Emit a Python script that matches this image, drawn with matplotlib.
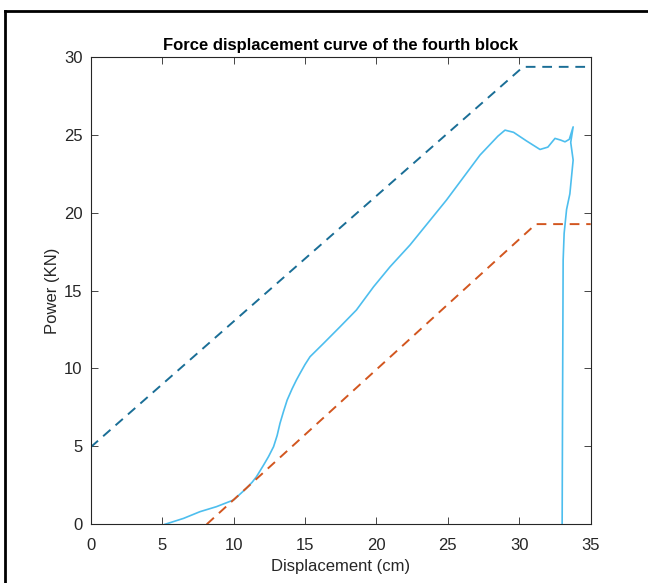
import numpy as np
from matplotlib import pyplot as plt
from matplotlib.lines import Line2D

plt.rcParams['font.family'] = ['Liberation Sans', 'DejaVu Sans']

# measured force-displacement curve (light blue)
disp = [5.2, 6.5, 7.65, 8.8, 10.0, 10.9, 11.3, 11.6, 12.1, 12.45, 12.8, 13.05,
        13.25, 13.5, 13.75, 14.1, 14.4, 14.65, 15.0, 15.35, 16.3, 17.45, 18.6,
        19.8, 20.95, 22.35, 24.9, 27.25, 28.5, 29.0, 29.6, 30.5, 31.45, 32.0,
        32.5, 32.9, 33.2, 33.5, 33.77, 33.6, 33.77, 33.54, 33.31, 33.14, 33.07,
        33.03, 33.0]
force = [0, 0.38, 0.81, 1.13, 1.56, 2.31, 2.7, 3.05, 3.8, 4.35, 4.98, 5.7,
         6.48, 7.25, 7.97, 8.7, 9.26, 9.68, 10.25, 10.75, 11.61, 12.67, 13.75,
         15.24, 16.52, 17.92, 20.8, 23.69, 24.9, 25.29, 25.15, 24.6, 24.05, 24.2,
         24.76, 24.65, 24.54, 24.7, 25.5, 24.5, 23.37, 21.2, 20.2, 18.67, 16.95,
         8.0, 0]

# upper bound (dark blue dashed)
upper_x = [0, 30.27, 35]
upper_y = [4.95, 29.35, 29.35]

# lower bound (orange dashed)
lower_x = [8.12, 31.16, 35]
lower_y = [0, 19.26, 19.26]

fig = plt.figure(figsize=(6.48, 5.83), dpi=100)
ax = fig.add_axes([0.14, 0.1007, 0.7716, 0.802])

ax.plot(upper_x, upper_y, '--', color='#1a6e96', lw=1.4, dashes=(5, 3.5))
ax.plot(disp, force, '-', color='#4dbeee', lw=1.2)
ax.plot(lower_x, lower_y, '--', color='#d2561f', lw=1.4, dashes=(5, 3.5))

ax.set_xlim(0, 35)
ax.set_ylim(0, 30)
ax.set_xticks(np.arange(0, 36, 5))
ax.set_yticks(np.arange(0, 31, 5))
ax.tick_params(direction='in', top=True, right=True, length=5, width=0.6,
               labelsize=12, colors='#262626', pad=6)
ax.tick_params(axis='x', pad=10)
for s in ax.spines.values():
    s.set_linewidth(0.8)
    s.set_color('#262626')

ax.set_title('Force displacement curve of the fourth block', fontsize=12,
             fontweight='bold', pad=5)
ax.set_xlabel('Displacement (cm)', fontsize=12, color='#262626', labelpad=4)
ax.set_ylabel('Power (KN)', fontsize=12, color='#262626', labelpad=3)

# frame around the figure (left and top edges)
fig.add_artist(Line2D([5/648, 5/648], [0, 1 - 11/583], transform=fig.transFigure,
                      color='black', lw=2))
fig.add_artist(Line2D([5/648, 1], [1 - 11/583, 1 - 11/583], transform=fig.transFigure,
                      color='black', lw=2))

fig.savefig('out.png', dpi=100)
